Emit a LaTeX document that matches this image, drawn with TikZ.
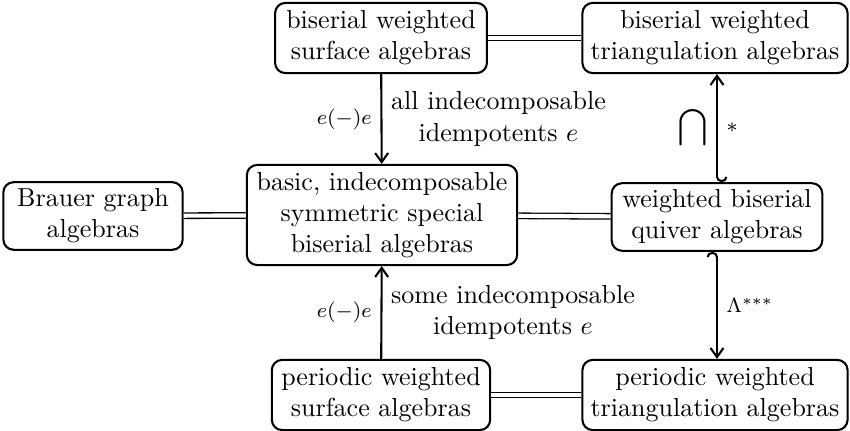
\documentclass[tikz,border=0pt]{standalone}
\usetikzlibrary{arrows.meta}
\begin{document}
\begin{tikzpicture}[x=0.3846pt,y=-0.3846pt,
 box/.style={draw, line width=0.8pt, rounded corners=4pt, align=center, inner sep=0pt},
 dbl/.style={double, double distance=1.6pt, line width=0.5pt},
 arr/.style={line width=0.8pt, -{Straight Barb[length=3.5pt,width=5pt]}},
 harr/.style={line width=0.8pt, {Hooks[left,length=2pt,width=8pt]}-{Straight Barb[length=3.5pt,width=5pt]}},
 lab/.style={font=\footnotesize},
 txt/.style={align=center}]
\useasboundingbox (0,0) rectangle (850,431);
\node[box, minimum width=81.5pt, minimum height=27pt] (bws) at (381,38) {biserial weighted\\surface algebras};
\node[box, minimum width=102pt, minimum height=27pt] (bwt) at (715,38) {biserial weighted\\triangulation algebras};
\node[box, minimum width=104pt, minimum height=38.5pt] (c) at (382,215) {basic, indecomposable\\symmetric special\\biserial algebras};
\node[box, minimum width=69pt, minimum height=26pt] (bg) at (93,216) {Brauer graph\\algebras};
\node[box, minimum width=81pt, minimum height=26pt] (wbq) at (717,217) {weighted biserial\\quiver algebras};
\node[box, minimum width=84pt, minimum height=27pt] (pws) at (381,395) {periodic weighted\\surface algebras};
\node[box, minimum width=102pt, minimum height=27pt] (pwt) at (715,395) {periodic weighted\\triangulation algebras};
\draw[dbl] (bws) -- (bwt);
\draw[dbl] (bg) -- (c);
\draw[dbl] (c) -- (wbq);
\draw[dbl] (pws) -- (pwt);
\draw[arr] (bws) -- node[lab,left] (l1) {$e(-)e$} node[txt,right] (t1) {all indecomposable\\idempotents $e$} (c);
\draw[arr] (pws) -- node[lab,left] (l2) {$e(-)e$} node[txt,right] (t2) {some indecomposable\\idempotents $e$} (c);
\draw[harr] (wbq.north) -- node[left] (cap) {$\displaystyle\bigcap$} node[lab,right] (st) {$*$} (wbq.north |- bwt.south);
\draw[harr] (wbq.south) -- node[lab,right] (lam) {$\Lambda^{***}$} (wbq.south |- pwt.north);
\end{tikzpicture}
\end{document}
